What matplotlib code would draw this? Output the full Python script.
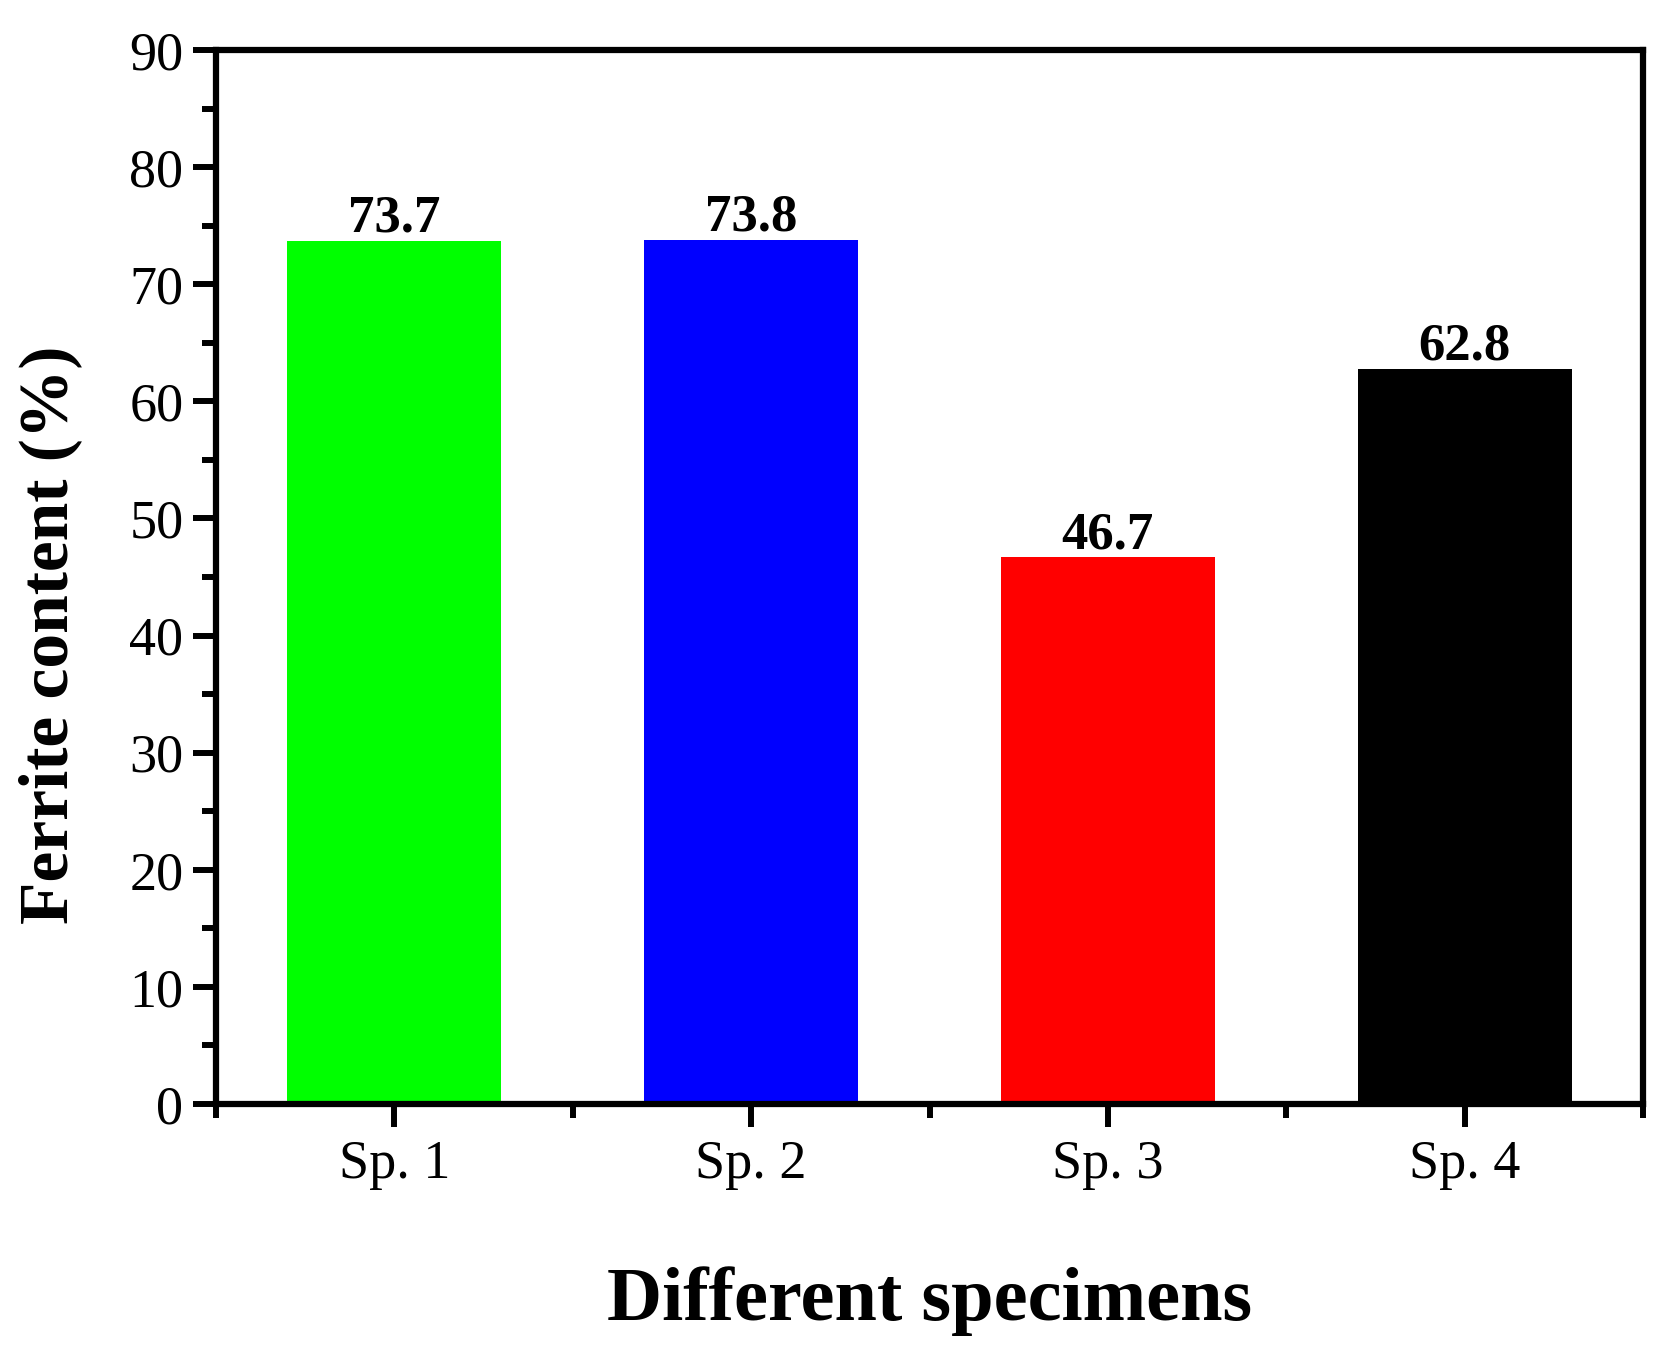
import matplotlib
matplotlib.use("Agg")
import matplotlib.pyplot as plt
from matplotlib.ticker import MultipleLocator, FixedLocator

categories = ["Sp. 1", "Sp. 2", "Sp. 3", "Sp. 4"]
values = [73.7, 73.8, 46.7, 62.8]
colors = ["#00ff00", "#0000ff", "#ff0000", "#000000"]
value_labels = ["73.7", "73.8", "46.7", "62.8"]

plt.rcParams['font.family'] = ['Liberation Serif', 'DejaVu Serif']

W, H = 1673, 1350
fig = plt.figure(figsize=(W / 100, H / 100), dpi=100)
ax = fig.add_axes([216 / W, 1 - 1104 / H, (1643 - 216) / W, (1104 - 50) / H])

x = list(range(1, len(categories) + 1))
ax.bar(x, values, width=0.6, color=colors, zorder=2)
for xi, v, lab in zip(x, values, value_labels):
    ax.annotate(lab, (xi, v), xytext=(0, 6.5), textcoords='offset points',
                ha='center', va='baseline', fontsize=38, fontweight='bold', zorder=3)

ax.set_xlim(0.5, 4.5)
ax.set_ylim(0, 90)
ax.set_xticks(x)
ax.set_xticklabels(categories)
ax.xaxis.set_minor_locator(FixedLocator([0.5, 1.5, 2.5, 3.5, 4.5]))
ax.yaxis.set_major_locator(MultipleLocator(10))
ax.yaxis.set_minor_locator(MultipleLocator(5))

for sp in ax.spines.values():
    sp.set_linewidth(4.5)
    sp.set_zorder(4)

ax.tick_params(axis='both', which='major', direction='out', length=16.5, width=4.3,
               labelsize=39, top=False, right=False)
ax.tick_params(axis='both', which='minor', direction='out', length=10, width=4.3,
               top=False, right=False)
ax.tick_params(axis='y', which='major', pad=7)
ax.tick_params(axis='x', which='major', pad=9)

fig.text(930 / W, 1 - 1320 / H, "Different specimens", ha='center', va='baseline',
         fontsize=55, fontweight='bold')
fig.text(50 / W, 1 - 635 / H, "Ferrite content (%)", ha='center', va='center',
         rotation=90, fontsize=50, fontweight='bold')

fig.savefig("out.png", dpi=100, facecolor='white')
